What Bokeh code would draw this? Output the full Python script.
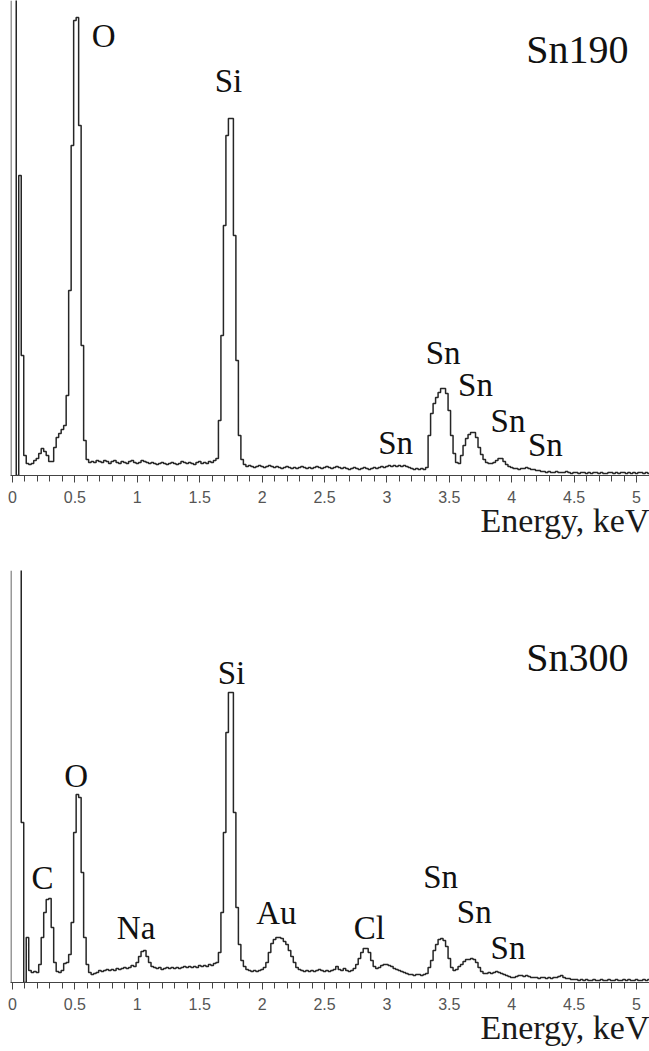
from bokeh.plotting import figure
from bokeh.layouts import column
from bokeh.models import Title, Span, SingleIntervalTicker, NumeralTickFormatter, ColumnDataSource, Range1d
from bokeh.core.properties import value
from bokeh.embed import file_html
from bokeh.resources import INLINE

CHANNEL_KEV = 0.02

# Sn190 spectrum, counts (arb. units) per 0.02 keV channel starting at 0 keV
sn190_counts = [
    600, 600, 0, 300, 120, 20, 12, 11, 12, 15,          # 0.00-0.18
    17, 22, 27, 24, 20, 14, 14, 28, 38, 42,             # 0.20-0.38
    46, 50, 80, 185, 330, 455, 458, 350, 130, 35,       # 0.40-0.58
    16, 13, 14, 13, 15, 14, 13, 15, 14, 12,             # 0.60-0.78
    14, 15, 13, 12, 14, 13, 12, 14, 15, 13,             # 0.80-0.98
    12, 13, 15, 14, 13, 12, 13, 12, 11, 12,             # 1.00-1.18
    13, 12, 11, 12, 13, 12, 11, 12, 14, 13,             # 1.20-1.38
    12, 13, 12, 11, 13, 14, 12, 13, 12, 14,             # 1.40-1.58
    13, 15, 17, 55, 140, 250, 340, 357, 357, 240,       # 1.60-1.78
    115, 40, 16, 11, 9, 10, 9, 8, 9, 10,                # 1.80-1.98
    9, 8, 9, 10, 9, 8, 9, 8, 7, 8,                      # 2.00-2.18
    9, 8, 7, 8, 7, 8, 9, 8, 7, 8,                       # 2.20-2.38
    7, 8, 9, 8, 7, 8, 9, 8, 7, 8,                       # 2.40-2.58
    9, 8, 7, 8, 7, 6, 7, 8, 7, 6,                       # 2.60-2.78
    7, 8, 7, 6, 7, 8, 7, 8, 9, 8,                       # 2.80-2.98
    9, 10, 9, 10, 9, 10, 9, 10, 9, 8,                   # 3.00-3.18
    7, 6, 7, 6, 7, 6, 8, 40, 62, 72,                    # 3.20-3.38
    78, 83, 87, 87, 82, 65, 40, 22, 13, 12,             # 3.40-3.58
    20, 30, 37, 41, 43, 43, 38, 28, 21, 16,             # 3.60-3.78
    13, 12, 12, 13, 15, 17, 17, 14, 11, 9,              # 3.80-3.98
    8, 7, 7, 6, 7, 7, 8, 7, 6, 6,                       # 4.00-4.18
    5, 5, 4, 4, 3, 4, 3, 3, 4, 3,                       # 4.20-4.38
    3, 3, 4, 3, 2, 3, 3, 2, 3, 3,                       # 4.40-4.58
    2, 3, 2, 3, 3, 2, 3, 2, 2, 3,                       # 4.60-4.78
    3, 2, 3, 2, 3, 3, 2, 3, 2, 3,                       # 4.80-4.98
    2, 3, 3, 2, 3, 2,                                   # 5.00-5.10
]

# Sn300 spectrum
sn300_counts = [
    600, 600, 600, 600, 160, 0, 45, 12, 10, 11,         # 0.00-0.18
    10, 18, 45, 70, 83, 84, 55, 20, 11, 10,             # 0.20-0.38
    12, 19, 20, 28, 60, 150, 188, 185, 110, 45,         # 0.40-0.58
    18, 10, 8, 9, 10, 12, 11, 12, 13, 12,               # 0.60-0.78
    13, 12, 14, 13, 14, 15, 14, 15, 17, 16,             # 0.80-0.98
    20, 26, 31, 32, 26, 20, 16, 15, 14, 15,             # 1.00-1.18
    13, 14, 15, 14, 15, 14, 15, 14, 15, 16,             # 1.20-1.38
    15, 16, 15, 16, 15, 17, 16, 17, 16, 18,             # 1.40-1.58
    17, 19, 20, 30, 70, 150, 250, 290, 290, 170,        # 1.60-1.78
    75, 38, 22, 16, 13, 12, 11, 12, 11, 12,             # 1.80-1.98
    13, 15, 20, 30, 39, 43, 45, 45, 44, 41,             # 2.00-2.18
    38, 32, 26, 20, 15, 13, 12, 11, 12, 11,             # 2.20-2.38
    12, 11, 12, 13, 12, 11, 12, 11, 12, 13,             # 2.40-2.58
    16, 13, 12, 14, 12, 11, 12, 14, 18, 24,             # 2.60-2.78
    30, 34, 34, 30, 22, 16, 14, 15, 17, 18,             # 2.80-2.98
    18, 17, 16, 14, 13, 12, 11, 10, 9, 8,               # 3.00-3.18
    8, 7, 8, 8, 7, 8, 9, 15, 22, 32,                    # 3.20-3.38
    38, 43, 44, 42, 36, 24, 15, 12, 13, 16,             # 3.40-3.58
    18, 21, 23, 23, 24, 23, 20, 15, 11, 9,              # 3.60-3.78
    9, 10, 9, 10, 11, 10, 9, 8, 7, 6,                   # 3.80-3.98
    5, 5, 6, 7, 7, 6, 7, 6, 5, 5,                       # 4.00-4.18
    5, 4, 5, 5, 4, 5, 4, 5, 5, 6,                       # 4.20-4.38
    7, 5, 4, 4, 3, 3, 3, 2, 3, 2,                       # 4.40-4.58
    3, 2, 2, 3, 2, 2, 3, 2, 2, 3,                       # 4.60-4.78
    2, 2, 3, 2, 2, 3, 2, 3, 2, 2,                       # 4.80-4.98
    3, 2, 2, 3, 2, 3,                                   # 5.00-5.10
]

sn190_label_text = ["O", "Si", "Sn", "Sn", "Sn", "Sn", "Sn"]
sn190_label_kev = [0.73, 1.73, 3.07, 3.45, 3.71, 3.97, 4.27]
sn190_label_cnt = [440, 395, 33, 123, 91, 55, 31]

sn300_label_text = ["C", "O", "Na", "Si", "Au", "Cl", "Sn", "Sn", "Sn"]
sn300_label_kev = [0.24, 0.51, 0.99, 1.755, 2.115, 2.86, 3.43, 3.70, 3.97]
sn300_label_cnt = [105, 207, 55, 310, 70, 55, 106, 71, 35]

sample_names = ["Sn190", "Sn300"]
sample_name_cnt = [426, 325]
x_title = "Energy, keV"

SERIF = value("Liberation Serif")


def panel(counts, labels, lab_x, lab_y, name, name_y, frame_h, height, bottom):
    energy = [round(i * CHANNEL_KEV, 2) for i in range(len(counts))]
    src = ColumnDataSource(dict(e=energy, c=counts))
    p = figure(width=649, height=height, output_backend="svg", toolbar_location=None,
               x_range=Range1d(-0.016, 5.104), y_range=Range1d(0, frame_h),
               min_border_left=10, min_border_right=0, min_border_top=0,
               min_border_bottom=bottom, y_axis_location=None)
    p.outline_line_color = None
    p.grid.visible = False
    p.background_fill_color = "white"
    p.border_fill_color = "white"

    p.step("e", "c", source=src, mode="center", line_color="#262626", line_width=1.5)

    ax = p.xaxis[0]
    ax.ticker = SingleIntervalTicker(interval=0.5, num_minor_ticks=5)
    ax.formatter = NumeralTickFormatter(format="0.[0]")
    ax.axis_line_color = "#444444"
    ax.axis_line_width = 1.2
    ax.major_tick_line_color = "#444444"
    ax.minor_tick_line_color = "#444444"
    ax.major_tick_in = 0
    ax.major_tick_out = 7
    ax.minor_tick_in = 0
    ax.minor_tick_out = 6
    ax.major_label_standoff = 8
    ax.major_label_text_font = "Liberation Sans"
    ax.major_label_text_font_size = "16px"
    ax.major_label_text_color = "#555555"

    p.add_layout(Span(location=-0.012, dimension="height", line_color="#555555", line_width=1.2))

    p.text(x=lab_x, y=lab_y, text=labels, text_font=SERIF, text_font_size="33px",
           text_align="center", text_baseline="middle", text_color="#111111")
    p.text(x=[4.936], y=[name_y], text=[name], text_font=SERIF,
           text_font_size="40px", text_align="right", text_baseline="middle", text_color="#111111")

    t = Title(text=x_title, align="right", text_font="Liberation Serif", text_font_size="34px",
              text_font_style="normal", text_color="#1a1a1a", standoff=-12)
    p.add_layout(t, "below")
    return p


top = panel(sn190_counts, sn190_label_text, sn190_label_kev, sn190_label_cnt,
            sample_names[0], sample_name_cnt[0], 475, 570, 95)
bot = panel(sn300_counts, sn300_label_text, sn300_label_kev, sn300_label_cnt,
            sample_names[1], sample_name_cnt[1], 412, 480, 68)

layout = column(top, bot, spacing=0)
open("out.html", "w").write(file_html(layout, INLINE))
